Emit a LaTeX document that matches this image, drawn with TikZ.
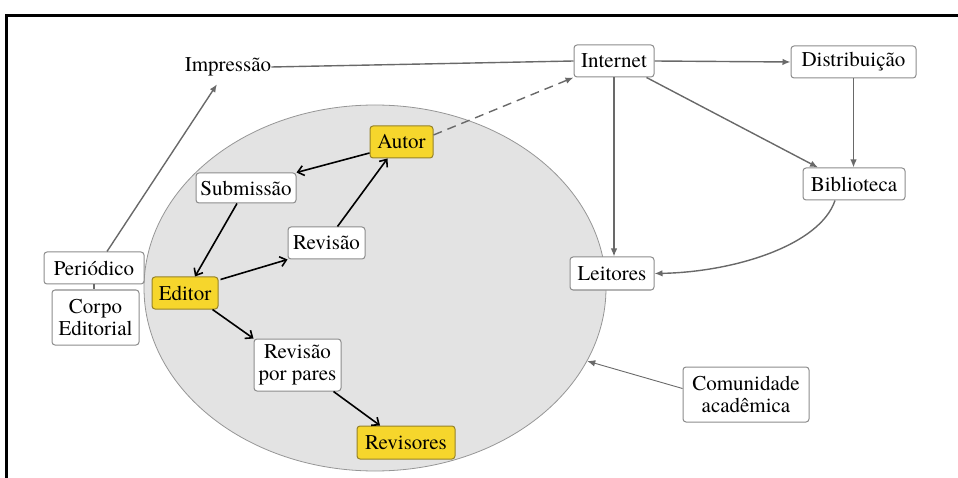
\documentclass[tikz,border=0pt]{standalone}
\usepackage{fontspec}
\setmainfont{TeX Gyre Termes}
\usetikzlibrary{arrows.meta,shapes.geometric,calc}
\definecolor{boxline}{RGB}{140,140,140}
\definecolor{conn}{RGB}{105,105,105}
\definecolor{hilite}{RGB}{246,214,44}
\definecolor{hiliteline}{RGB}{150,130,40}
\definecolor{zone}{RGB}{227,227,227}
\definecolor{zoneline}{RGB}{150,150,150}

\begin{document}
\begin{tikzpicture}[x=1pt,y=-1pt,
  font=\fontsize{21}{22}\selectfont,
  box/.style={draw=boxline,fill=white,rounded corners=3pt,line width=1pt,inner sep=0pt,align=center},
  keybox/.style={box,fill=hilite,draw=hiliteline},
  garrow/.style={draw=conn,line width=1.4pt,-{Latex[length=8pt,width=6.5pt]}},
  gline/.style={draw=conn,line width=1.4pt},
  barrow/.style={draw=black,line width=1.6pt,-{Straight Barb[length=6pt,width=10pt]}}]

\useasboundingbox (0,0) rectangle (958,478);
\draw[line width=3pt] (6.5,478) -- (6.5,15.5) -- (958,15.5);

% academic community zone
\node[ellipse, draw=zoneline, fill=zone, line width=0.8pt,
      minimum width=462pt, minimum height=366pt, inner sep=0pt] (ell) at (375,288) {};

% outer nodes
\node[inner sep=0pt, minimum height=20pt] (imp) at (228,67) {Impressão};
\node[box, minimum width=80pt, minimum height=32pt] (net) at (614,61) {Internet};
\node[box, minimum width=125pt, minimum height=32pt] (dist) at (853.5,62) {Distribuição};
\node[box, minimum width=102pt, minimum height=32pt] (bib) at (854,184) {Biblioteca};
\node[box, minimum width=84pt, minimum height=33pt] (lei) at (612,273.5) {Leitores};
\node[box, minimum width=126pt, minimum height=55pt] (com) at (746,394.5) {Comunidade\\acadêmica};
\node[box, minimum width=100pt, minimum height=32pt] (per) at (94,268) {Periódico};
\node[box, minimum width=87pt, minimum height=55pt] (corpo) at (95.5,317.5) {Corpo\\Editorial};

% editorial cycle
\node[keybox, minimum width=63pt, minimum height=32pt] (autor) at (401.5,142) {Autor};
\node[box, minimum width=100pt, minimum height=30pt] (sub) at (246,188) {Submissão};
\node[box, minimum width=77pt, minimum height=32pt] (rev) at (326.5,243) {Revisão};
\node[keybox, minimum width=66pt, minimum height=32pt] (ed) at (185,293) {Editor};
\node[box, minimum width=87pt, minimum height=52pt] (rpp) at (297.5,365) {Revisão\\por pares};
\node[keybox, minimum width=98pt, minimum height=33pt] (revs) at (406,442.5) {Revisores};

% grey connectors
\draw[gline] (imp.east) -- (net.west);
\draw[garrow] ([xshift=13pt]per.north) -- ($(imp.south)+(-11,7)$);
\draw[gline] (per.south) -- (per.south |- corpo.north);
\draw[garrow, dash pattern=on 9pt off 6pt] ([yshift=7pt]autor.east) -- (net.south west);
\draw[garrow] (net.east) -- (dist.west);
\draw[garrow] ([xshift=-8pt]net.south east) -- ([xshift=-36pt]bib.north);
\draw[garrow] (net.south) -- (net.south |- lei.north);
\draw[garrow] (dist.south) -- (dist.south |- bib.north);
\draw[garrow] ([xshift=-19pt]bib.south) .. controls (820,245) and (735,272) .. (lei.east);
\draw[garrow, line width=0.9pt] ([yshift=6pt]com.west) -- (ell.-19);

% black connectors
\draw[barrow] ([yshift=-11pt]autor.west) -- (sub.north east);
\draw[barrow] ([xshift=-9pt]sub.south) -- ([xshift=10pt]ed.north);
\draw[barrow] ([yshift=-3pt,xshift=2pt]ed.north east) -- (rev.south west);
\draw[barrow] ([xshift=11pt]rev.north) -- ([xshift=-14pt]autor.south);
\draw[barrow] ([xshift=-6pt]ed.south east) -- (rpp.north west);
\draw[barrow] ([xshift=-8pt]rpp.south east) -- ([xshift=-26pt]revs.north);
\end{tikzpicture}
\end{document}
